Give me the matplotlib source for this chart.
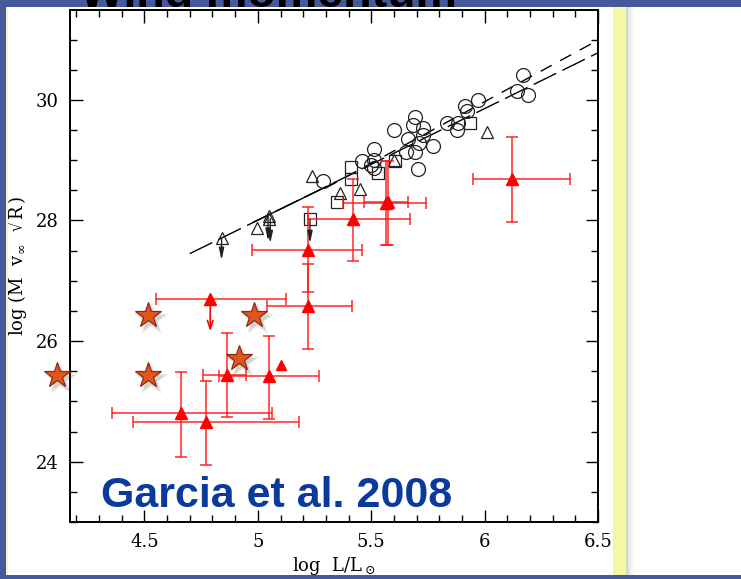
import matplotlib
matplotlib.use("Agg")
import matplotlib.pyplot as plt
from matplotlib.patches import Rectangle
from matplotlib.ticker import MultipleLocator
from matplotlib.transforms import offset_copy

# ---- comparison sample (open black symbols) ----
circ_x = [5.289, 5.458, 5.514, 5.514, 5.514, 5.500, 5.602, 5.654, 5.664, 5.693,
          5.686, 5.727, 5.730, 5.712, 5.771, 5.693, 5.708, 5.833, 5.877, 5.884,
          5.914, 5.921, 5.973, 6.171, 6.142, 6.193]
circ_y = [28.65, 28.98, 29.19, 29.00, 28.87, 28.92, 29.50, 29.14, 29.35, 29.71,
          29.59, 29.53, 29.42, 29.28, 29.24, 29.13, 28.85, 29.62, 29.50, 29.61,
          29.89, 29.81, 30.00, 30.41, 30.14, 30.08]

sq_x = [5.410, 5.410, 5.348, 5.230, 5.530, 5.605, 5.936]
sq_y = [28.88, 28.69, 28.30, 28.02, 28.79, 28.99, 29.62]

tri_x = [4.840, 4.997, 5.050, 5.050, 5.237, 5.362, 5.450, 5.600, 6.010]
tri_y = [27.71, 27.87, 28.07, 28.03, 28.73, 28.46, 28.52, 29.00, 29.47]

# upper limits among the open symbols (arrow start and length)
lim_x = [4.840, 5.045, 5.055, 5.230]
lim_y = [27.71, 28.07, 28.03, 28.02]
lim_len = [0.37, 0.41, 0.41, 0.40]

# ---- new sample (red, with error bars) ----
red_x = [6.120, 5.565, 5.572, 5.421, 5.222, 5.222, 4.862, 5.050, 4.660, 4.771]
red_y = [28.69, 28.29, 28.31, 28.02, 27.51, 26.575, 25.44, 25.415, 24.81, 24.65]
red_xlo = [5.950, 5.377, 5.470, 5.222, 4.973, 5.040, 4.759, 4.830, 4.359, 4.450]
red_xhi = [6.375, 5.740, 5.660, 5.671, 5.459, 5.415, 4.950, 5.270, 5.061, 5.181]
red_ylo = [27.97, 27.59, 27.59, 27.32, 26.82, 25.87, 24.74, 24.71, 24.08, 23.94]
red_yhi = [29.38, 28.99, 28.99, 28.69, 28.22, 27.27, 26.14, 26.09, 25.48, 25.33]

redlim_x = [4.790]
redlim_y = [26.69]
redlim_xlo = [4.549]
redlim_xhi = [5.123]
redlim_len = [0.53]

redpt_x = [5.102]
redpt_y = [25.61]

# highlighted objects (stars)
star_x = [4.115, 4.514, 4.514, 4.984, 4.917]
star_y = [25.44, 26.44, 25.44, 26.44, 25.72]

# wind-momentum relations
fitA_x = [4.70, 6.50]
fitA_y = [27.45, 30.78]
fitB_x = [5.30, 6.50]
fitB_y = [28.54, 30.99]
fitC_x = [4.98, 5.33]
fitC_y = [27.97, 28.61]

W, H = 741, 579
plt.rcParams["mathtext.fontset"] = "dejavuserif"
fig = plt.figure(figsize=(W / 100, H / 100), dpi=100)
fig.patch.set_facecolor("white")

# slide decorations
blue = "#46599b"
fig.patches.append(Rectangle((0, 1 - 7 / H), 1, 7 / H, transform=fig.transFigure,
                             facecolor=blue, edgecolor="none", zorder=5))
fig.patches.append(Rectangle((0, 0), 6 / W, 1, transform=fig.transFigure,
                             facecolor=blue, edgecolor="none", zorder=5))
fig.patches.append(Rectangle((0, 0), 1, 4 / H, transform=fig.transFigure,
                             facecolor=blue, edgecolor="none", zorder=5))
fig.patches.append(Rectangle((6 / W, 4 / H), 1.5 / W, 1 - 11 / H, transform=fig.transFigure,
                             facecolor="#f4f6c4", edgecolor="none", zorder=4))
fig.patches.append(Rectangle((613 / W, 4 / H), 13 / W, 1 - 11 / H, transform=fig.transFigure,
                             facecolor="#f3f8a2", edgecolor="none", zorder=4))
for i, a in enumerate([0.35, 0.25, 0.16, 0.09, 0.04]):
    fig.patches.append(Rectangle(((626 + 1.5 * i) / W, 4 / H), 1.5 / W, 1 - 11 / H,
                                 transform=fig.transFigure, facecolor="#8a8a70",
                                 alpha=a, edgecolor="none", zorder=4))

# slide title, mostly above the visible area
fig.text(80 / W, 1 - 7 / H, "Wind momentum", fontsize=33.5, fontweight="bold",
         family="Liberation Sans", color="black", ha="left", va="baseline", zorder=6)

ax = fig.add_axes([69.6 / W, (H - 522) / H, (598 - 69.6) / W, 512 / H])
ax.set_xlim(4.17, 6.5)
ax.set_ylim(23.0, 31.49)

# fits
ax.plot(fitA_x, fitA_y, color="black", lw=1.0, dashes=(18, 5))
ax.plot(fitB_x, fitB_y, color="black", lw=1.0, dashes=(9, 7))
ax.plot(fitC_x, fitC_y, color="black", lw=1.0)

# open symbols
ax.plot(circ_x, circ_y, "o", ms=10, mfc="none", mec="#222222", mew=0.9)
ax.plot(sq_x, sq_y, "s", ms=8, mfc="none", mec="#222222", mew=0.9)
ax.plot(tri_x, tri_y, "^", ms=8.5, mfc="none", mec="#222222", mew=0.9)
for x, y, L in zip(lim_x, lim_y, lim_len):
    ax.annotate("", xy=(x, y - L), xytext=(x, y),
                arrowprops=dict(arrowstyle="-|>,head_length=0.7,head_width=0.15",
                                color="#222222", lw=1.0, shrinkA=0, shrinkB=0))

# red sample
ecol = (1.0, 0.1, 0.1, 0.8)
xerr = [[x - lo for x, lo in zip(red_x, red_xlo)], [hi - x for x, hi in zip(red_x, red_xhi)]]
yerr = [[y - lo for y, lo in zip(red_y, red_ylo)], [hi - y for y, hi in zip(red_y, red_yhi)]]
ax.errorbar(red_x, red_y, xerr=xerr, yerr=yerr, fmt="none", ecolor=ecol,
            elinewidth=1.3, capsize=4.5, capthick=1.3)
ax.plot(red_x, red_y, "^", ms=9, color="red", mec="red")

lxerr = [[x - lo for x, lo in zip(redlim_x, redlim_xlo)],
         [hi - x for x, hi in zip(redlim_x, redlim_xhi)]]
ax.errorbar(redlim_x, redlim_y, xerr=lxerr, fmt="none", ecolor=ecol,
            elinewidth=1.3, capsize=4.5, capthick=1.3)
ax.plot(redlim_x, redlim_y, "^", ms=9, color="red", mec="red")
for x, y, L in zip(redlim_x, redlim_y, redlim_len):
    ax.annotate("", xy=(x, y - L), xytext=(x, y),
                arrowprops=dict(arrowstyle="->,head_length=0.6,head_width=0.2",
                                color="red", lw=1.2, shrinkA=0, shrinkB=0))
ax.plot(redpt_x, redpt_y, "^", ms=7, color="red", mec="red")

# stars with a soft drop shadow
shadow = offset_copy(ax.transData, fig=fig, x=3, y=-4, units="dots")
for k, a in enumerate([0.10, 0.08, 0.06, 0.04]):
    ax.plot(star_x, star_y, "*", ms=19 + 3 * k, color="#555555", alpha=a,
            mec="none", transform=shadow, clip_on=False, zorder=8)
ax.plot(star_x, star_y, "*", ms=19, mfc="#e2561c", mec="#8e2a14", mew=0.9,
        clip_on=False, zorder=9)

# axes styling
for s in ax.spines.values():
    s.set_linewidth(1.4)
ax.xaxis.set_major_locator(MultipleLocator(0.5))
ax.xaxis.set_minor_locator(MultipleLocator(0.1))
ax.yaxis.set_major_locator(MultipleLocator(2))
ax.yaxis.set_minor_locator(MultipleLocator(0.5))
ax.tick_params(which="both", direction="in", top=True, right=True, width=1.0)
ax.tick_params(which="major", length=9, pad=8)
ax.tick_params(which="minor", length=4.8)
ax.set_xticks([4.5, 5, 5.5, 6, 6.5])
ax.set_xticklabels(["4.5", "5", "5.5", "6", "6.5"])
ax.set_yticks([24, 26, 28, 30])
ax.set_yticklabels(["24", "26", "28", "30"])
for lab in ax.get_xticklabels() + ax.get_yticklabels():
    lab.set_family("DejaVu Serif")
    lab.set_fontsize(13)

ax.set_xlabel(r"log  L/L$_\odot$", family="DejaVu Serif", fontsize=13, labelpad=3)
ax.set_ylabel(r"log $(\dot{\rm M}\ \ {\rm v}_\infty\ \ \sqrt{\rm R})$",
              family="DejaVu Serif", fontsize=13, labelpad=4)

fig.text(101 / W, (H - 507) / H, "Garcia et al. 2008",
         fontsize=31, fontweight="bold", family="Liberation Sans", color="#0a3a9c",
         ha="left", va="baseline", zorder=7)

fig.savefig("out.png", dpi=100, facecolor="white")
